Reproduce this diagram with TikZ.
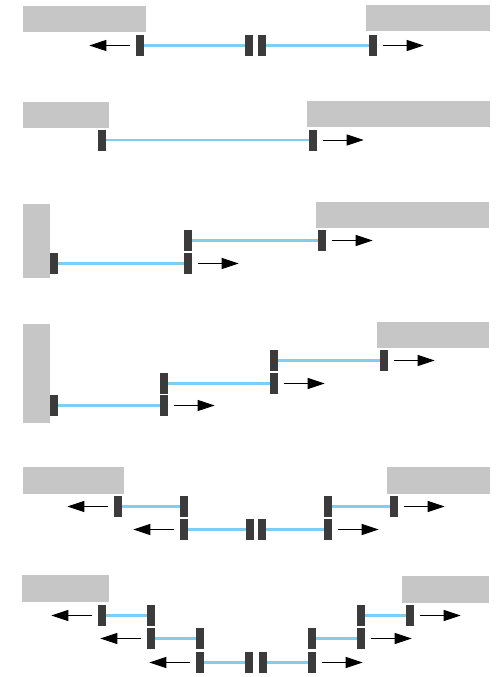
\documentclass[tikz,border=0pt]{standalone}
\usetikzlibrary{arrows.meta}
\definecolor{ropeblue}{HTML}{80CDF3}
\definecolor{padgray}{HTML}{3B3B3B}
\definecolor{wallgray}{HTML}{C6C6C6}
\tikzset{blk/.style={rectangle,fill=padgray,minimum width=8pt,minimum height=21pt,inner sep=0pt},
rope/.style={ropeblue,line width=2.3pt},
push/.style={-{Triangle[length=17pt,width=11pt]},line width=0.8pt},
wall/.style={fill=wallgray}}
\newcommand{\blk}[3]{\node[blk] (#1) at (#2,#3) {};}
\newcommand{\pushr}[1]{\draw[push] ([xshift=5.5pt]#1.east) -- ++(41,0);}
\newcommand{\pushl}[1]{\draw[push] ([xshift=-5.5pt]#1.west) -- ++(-41,0);}
\begin{document}
\begin{tikzpicture}[x=1pt,y=-1pt]
\useasboundingbox (0,0) rectangle (499,677);
% walls
\fill[wall] (23,6) rectangle (146,32);
\fill[wall] (366,5) rectangle (490,31);
\fill[wall] (23,102) rectangle (109,128);
\fill[wall] (307,101) rectangle (490,127);
\fill[wall] (23,204) rectangle (50,278);
\fill[wall] (316,202) rectangle (489,228);
\fill[wall] (23,324) rectangle (50,423);
\fill[wall] (377,322) rectangle (489,348);
\fill[wall] (23,467) rectangle (124,494);
\fill[wall] (387,467) rectangle (490,494);
\fill[wall] (22,575) rectangle (109,602);
\fill[wall] (402,576) rectangle (489,603);
% row 1
\blk{a1}{140}{45.5} \blk{a2}{249}{45.5} \blk{a3}{262}{45.5} \blk{a4}{373}{45.5}
\draw[rope] (a1.east) -- (a2.west);
\draw[rope] (a3.east) -- (a4.west);
\pushl{a1} \pushr{a4}
% row 2
\blk{b1}{102}{140} \blk{b2}{313}{140}
\draw[rope] (b1.east) -- (b2.west);
\pushr{b2}
% row 3
\blk{c1}{188}{240.5} \blk{c2}{322}{240.5}
\blk{c3}{54}{263.5} \blk{c4}{188}{263.5}
\draw[rope] (c1.east) -- (c2.west);
\draw[rope] (c3.east) -- (c4.west);
\pushr{c2} \pushr{c4}
% row 4
\blk{d1}{274}{360.5} \blk{d2}{384}{360.5}
\blk{d3}{164}{383.5} \blk{d4}{274}{383.5}
\blk{d5}{54}{405.5} \blk{d6}{164}{405.5}
\draw[rope] (d1.east) -- (d2.west);
\draw[rope] (d3.east) -- (d4.west);
\draw[rope] (d5.east) -- (d6.west);
\pushr{d2} \pushr{d4} \pushr{d6}
% row 5
\blk{e1}{118}{506.5} \blk{e2}{184}{506.5} \blk{e3}{328}{506.5} \blk{e4}{394}{506.5}
\blk{e5}{184}{529.5} \blk{e6}{250}{529.5} \blk{e7}{262}{529.5} \blk{e8}{328}{529.5}
\draw[rope] (e1.east) -- (e2.west);
\draw[rope] (e3.east) -- (e4.west);
\draw[rope] (e5.east) -- (e6.west);
\draw[rope] (e7.east) -- (e8.west);
\pushl{e1} \pushr{e4} \pushl{e5} \pushr{e8}
% row 6
\blk{f1}{102}{615.5} \blk{f2}{151}{615.5} \blk{f3}{361}{615.5} \blk{f4}{410}{615.5}
\blk{f5}{151}{638.5} \blk{f6}{200}{638.5} \blk{f7}{312}{638.5} \blk{f8}{361}{638.5}
\blk{f9}{200}{662.5} \blk{f10}{249}{662.5} \blk{f11}{263}{662.5} \blk{f12}{312}{662.5}
\draw[rope] (f1.east) -- (f2.west);
\draw[rope] (f3.east) -- (f4.west);
\draw[rope] (f5.east) -- (f6.west);
\draw[rope] (f7.east) -- (f8.west);
\draw[rope] (f9.east) -- (f10.west);
\draw[rope] (f11.east) -- (f12.west);
\pushl{f1} \pushr{f4} \pushl{f5} \pushr{f8} \pushl{f9} \pushr{f12}
\end{tikzpicture}
\end{document}
